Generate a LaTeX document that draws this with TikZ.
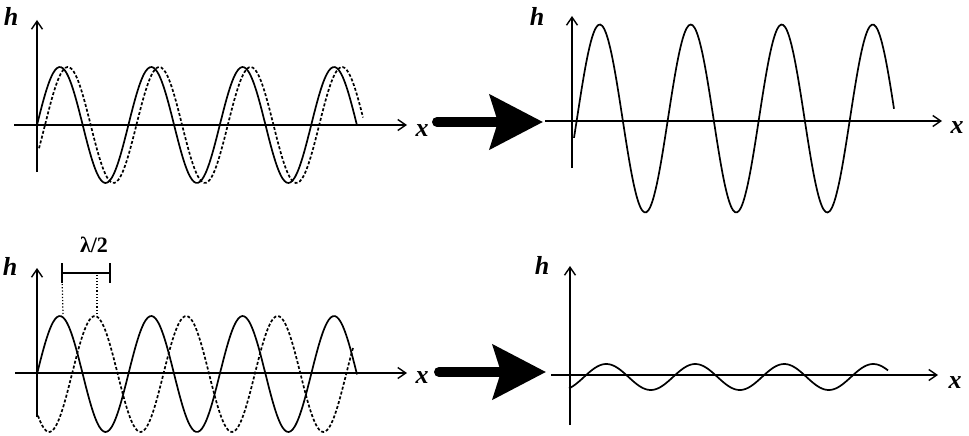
\documentclass[tikz,border=0pt]{standalone}
\usepackage{fontspec}
\setmainfont{Liberation Serif}
\usetikzlibrary{arrows.meta}

\begin{document}
\begin{tikzpicture}[x=1pt,y=-1pt,
  axis/.style={line width=1.7pt,-{Straight Barb[length=8pt,width=11pt,line width=1.4pt]}},
  wave/.style={line width=1.7pt,smooth,samples=160},
  dashwave/.style={wave,dash pattern=on 3pt off 2pt},
  bigarrow/.style={line width=10pt,line cap=round,-{Stealth[length=53pt,width=54pt,inset=8pt]}},
  lbl/.style={font=\fontsize{26}{26}\selectfont\bfseries\itshape,inner sep=0pt}]
\useasboundingbox (0,0) rectangle (969,436);    %画布大小与原图相同;

%左上:两列几乎同相的波
\draw[axis] (37,172) -- (37,20);       %纵轴;
\draw[axis] (14,125) -- (407,125);       %横轴;
\node[lbl] (hTL) at (11,16) {h};
\node[lbl] (xTL) at (422,131) {x};
\draw[wave] plot[domain=37:357] (\x,{125-58*sin(3.9387*(\x-37))});       %实线波;
\draw[dashwave] plot[domain=39:363] (\x,{125-58*sin(3.9387*(\x-45))});       %虚线波,稍向右移;

%右上:叠加后振幅变大
\draw[axis] (572,168) -- (572,16);
\draw[axis] (545,121) -- (942,121);
\node[lbl] (hTR) at (537,16) {h};
\node[lbl] (xTR) at (957,128) {x};
\draw[wave] plot[domain=574:894] (\x,{118.5-94*sin(3.956*(\x-577))});

%左下:相差半个波长的两列波
\draw[axis] (37,417) -- (37,268);
\draw[axis] (15,373) -- (407,373);
\node[lbl] (hBL) at (10,266) {h};
\node[lbl] (xBL) at (422,378) {x};
\draw[wave] plot[domain=37:357] (\x,{374-58*sin(3.9387*(\x-37))});
\draw[dashwave] plot[domain=38:353] (\x,{374-58*sin(3.9387*(\x-72))});
\draw[line width=1.7pt] (62,263) -- (62,283) (62,273) -- (110,273) (110,263) -- (110,283);       %标出半个波长;
\node[font=\fontsize{22}{22}\selectfont\bfseries,inner sep=0pt] (lam) at (94,245) {λ/2};
\draw[dotted,line width=1.2pt] (63,314) -- (62,275);
\draw[dotted,line width=1.2pt] (97,314) -- (97,275);

%右下:叠加后几乎抵消
\draw[axis] (570,425) -- (570,266);
\draw[axis] (551,375) -- (938,375);
\node[lbl] (hBR) at (542,265) {h};
\node[lbl] (xBR) at (955,383) {x};
\draw[wave] plot[domain=569:888] (\x,{377-13*sin(4.0449*(\x-584))});

%中间的粗箭头
\coordinate (a1) at (437,122);
\coordinate (b1) at (543,122);
\coordinate (a2) at (439,372);
\coordinate (b2) at (546,372);
\draw[bigarrow] (a1) -- (b1);
\draw[bigarrow] (a2) -- (b2);
\end{tikzpicture}
\end{document}
